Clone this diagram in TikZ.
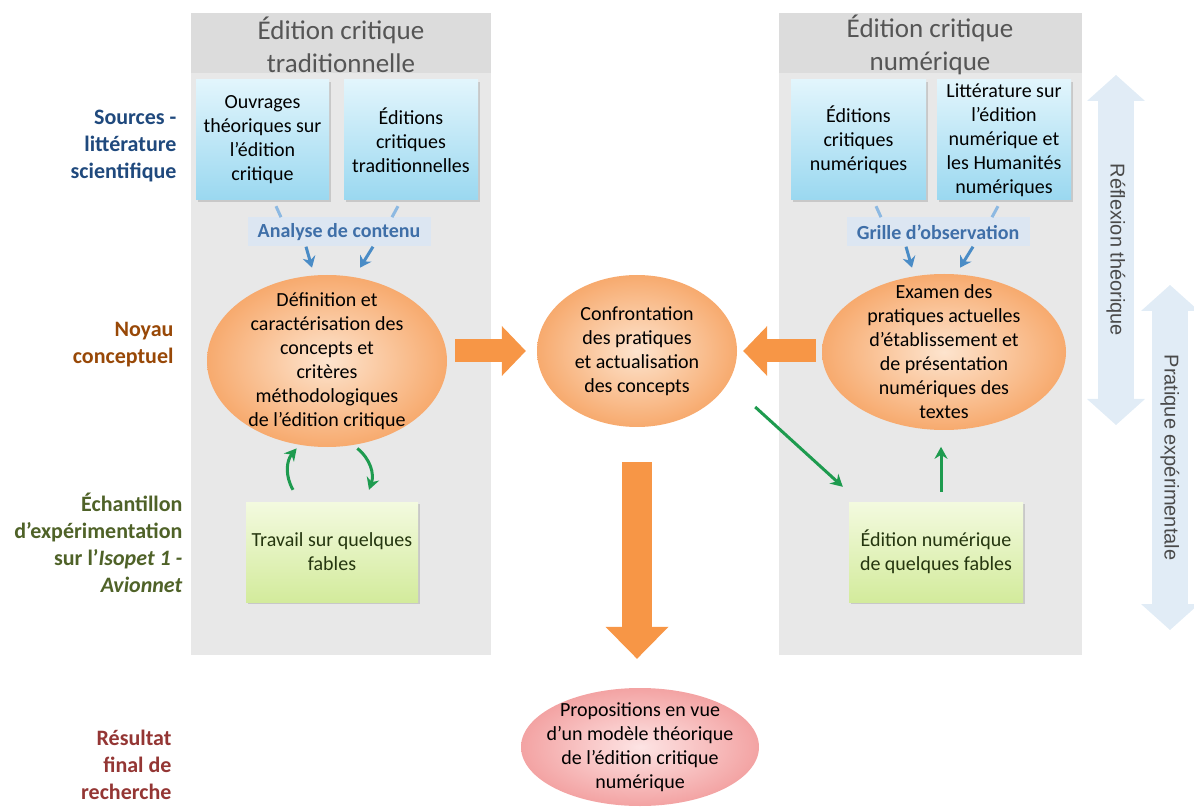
\documentclass[tikz,border=0pt]{standalone}
\usepackage{fontspec}
\setmainfont{Carlito}
\newfontfamily\arialfont{Liberation Sans}
\usetikzlibrary{arrows.meta,shadows,calc,shapes.geometric}

\definecolor{panelgray}{HTML}{E8E8E8}
\definecolor{headgray}{HTML}{DCDCDC}
\definecolor{headtext}{HTML}{555555}
\definecolor{bluetop}{HTML}{E2F5FC}
\definecolor{bluebot}{HTML}{9AD8F0}
\definecolor{bandblue}{HTML}{DCE6F2}
\definecolor{bandtext}{HTML}{3F6FA8}
\definecolor{arrowblue}{HTML}{4A8CC6}
\definecolor{paleblue}{HTML}{8DB9E2}
\definecolor{peachin}{HTML}{FDE4CE}
\definecolor{peachout}{HTML}{F7AA6E}
\definecolor{pinkin}{HTML}{FDE4E4}
\definecolor{pinkout}{HTML}{F3A3A3}
\definecolor{greentop}{HTML}{F3FADF}
\definecolor{greenbot}{HTML}{D3EB9C}
\definecolor{greentext}{HTML}{25360F}
\definecolor{bigorange}{HTML}{F79646}
\definecolor{linkgreen}{HTML}{1E9B4F}
\definecolor{sidearrow}{HTML}{E1ECF6}
\definecolor{sidetext}{HTML}{4A4A4A}
\definecolor{srcblue}{HTML}{1F497D}
\definecolor{corebrown}{HTML}{984807}
\definecolor{sampgreen}{HTML}{4F6228}
\definecolor{resred}{HTML}{943634}

\begin{document}
\begin{tikzpicture}[x=1pt, y=1pt,
every node/.style={align=center, font=\fontsize{20}{24}\selectfont},
headtitle/.style={text=headtext, font=\fontsize{27}{33}\selectfont},
sidelabel/.style={anchor=east, align=right, font=\bfseries\fontsize{22}{27}\selectfont},
srcbox/.style={rectangle, top color=bluetop, bottom color=bluebot, inner sep=2pt,
    minimum width=134, minimum height=120,
    drop shadow={shadow xshift=2pt, shadow yshift=-2pt, opacity=.3}},
band/.style={rectangle, fill=bandblue, text=bandtext, font=\bfseries\fontsize{20}{24}\selectfont,
    minimum width=183, minimum height=29, inner sep=0pt},
oval/.style={ellipse, inner color=peachin, outer color=peachout, inner xsep=-10pt, inner ysep=-18pt},
samplebox/.style={rectangle, top color=greentop, bottom color=greenbot, text=greentext,
    minimum width=173, minimum height=100,
    drop shadow={shadow xshift=2pt, shadow yshift=-2pt, opacity=.3}},
srcline/.style={paleblue, line width=3pt},
srcarrow/.style={arrowblue, line width=3pt, -{Stealth[length=11pt,width=13pt]}},
linkarrow/.style={linkgreen, line width=3pt, -{Stealth[length=12pt,width=13pt]}},
bigarrow/.style={bigorange, line width=23pt, -{Triangle[width=50pt,length=24pt,line width=0pt]}},
twoway/.style={sidearrow, line width=36pt,
    {Triangle[width=58pt,length=26pt,line width=0pt]}-{Triangle[width=58pt,length=26pt,line width=0pt]}}
]
\useasboundingbox (0,0) rectangle (1194,807);

% panels
\fill[panelgray] (191,152) rectangle (491,794);
\fill[headgray] (191,734) rectangle (491,794);
\fill[panelgray] (779,152) rectangle (1082,794);
\fill[headgray] (779,734) rectangle (1082,794);
\node[headtitle] (tradhead) at (341,762.5) {Édition critique\\traditionnelle};
\node[headtitle] (numhead) at (930,762.5) {Édition critique\\numérique};

% two way arrows on the right
\coordinate (reftop) at (1116,732);
\coordinate (refbot) at (1116,382);
\coordinate (pratop) at (1170,522);
\coordinate (prabot) at (1170,177);
\draw[twoway] (reftop) -- (refbot)
    node[midway, rotate=-90, text=sidetext, font=\arialfont\fontsize{20}{24}\selectfont] (reflexion) {Réflexion théorique};
\draw[twoway] (pratop) -- (prabot)
    node[midway, rotate=-90, text=sidetext, font=\arialfont\fontsize{20}{24}\selectfont] (pratique) {Pratique expérimentale};

% row labels
\node[sidelabel, text=srcblue] (sources) at (180,661) {Sources -\\littérature\\scientifique};
\node[sidelabel, text=corebrown] (noyau) at (177,462) {Noyau\\conceptuel};
\node[sidelabel, text=sampgreen] (echant) at (186,264)
    {Échantillon\\d’expérimentation\\sur l’\textit{Isopet 1 -}\\\textit{Avionnet}};
\node[sidelabel, text=resred] (resultat) at (175,42) {Résultat\\final de\\recherche};

\node[srcbox, minimum width=133] (ouvrages) at (262.5,667) {Ouvrages\\théoriques sur\\l’édition\\critique};
\node[srcbox] (editrad) at (411,667) {Éditions\\critiques\\traditionnelles};
\node[srcbox, minimum width=135] (editnum) at (858.5,667) {Éditions\\critiques\\numériques};
\node[srcbox] (littnum) at (1004,667) {Littérature sur\\l’édition\\numérique et\\les Humanités\\numériques};

\node[band] (analyse) at (339,575) {Analyse de contenu};
\node[band] (grille) at (938,575) {Grille d’observation};

\node[oval, minimum width=240, minimum height=172] (definition) at (327,446)
    {Définition et\\caractérisation des\\concepts et\\critères\\méthodologiques\\de l’édition critique};
\node[oval, minimum width=200, minimum height=152] (confront) at (637,456)
    {Confrontation\\des pratiques\\et actualisation\\des concepts};
\node[oval, minimum width=244, minimum height=156] (examen) at (944,455)
    {Examen des\\pratiques actuelles\\d’établissement et\\de présentation\\numériques des\\textes};
\node[oval, inner color=pinkin, outer color=pinkout, minimum width=238, minimum height=118] (propos) at (640,60)
    {Propositions en vue\\d’un modèle théorique\\de l’édition critique\\numérique};

\node[samplebox, minimum width=172] (travail) at (332,255) {Travail sur quelques\\fables};
\node[samplebox, minimum width=174] (ednum) at (936,255) {Édition numérique\\de quelques fables};

\foreach \n/\s/\d in {ouvrages/13.5/5, editrad/-13/-6, editnum/17.5/5, littnum/-6/-6}
    \draw [srcline] ([xshift=\s pt,yshift=-6pt]\n.south) -- ++(\d,-11);
\foreach \n/\s/\d in {analyse/-33/6, analyse/34/-13, grille/-32/6, grille/35/-13}
    \draw [srcarrow] ([xshift=\s pt]\n.south) -- ++(\d,-21);

\draw[bigarrow] ($(definition.east |- confront.west)+(8,0)$) -- ([xshift=-11pt]confront.west);
\draw[bigarrow] ($(examen.west |- confront.east)+(-6,0)$) -- ([xshift=6pt]confront.east);
\draw[bigarrow, line width=30pt, -{Triangle[width=63pt,length=32pt,line width=0pt]}]
    ([yshift=-35pt]confront.south) -- ([yshift=29pt]propos.north -| confront.south);

\draw[linkarrow] ([xshift=-39pt,yshift=12pt]travail.north) to[bend left=35] ([yshift=-4pt]definition.250);
\draw[linkarrow] ([yshift=-4pt]definition.290) to[bend left=35] ([xshift=37pt,yshift=12pt]travail.north);
\draw[linkarrow] ([xshift=18pt,yshift=-56pt]confront.east) -- ([xshift=-6pt,yshift=15pt]ednum.north west);
\draw[linkarrow] ([xshift=5pt,yshift=10pt]ednum.north) -- ++(0,45);
\end{tikzpicture}
\end{document}
